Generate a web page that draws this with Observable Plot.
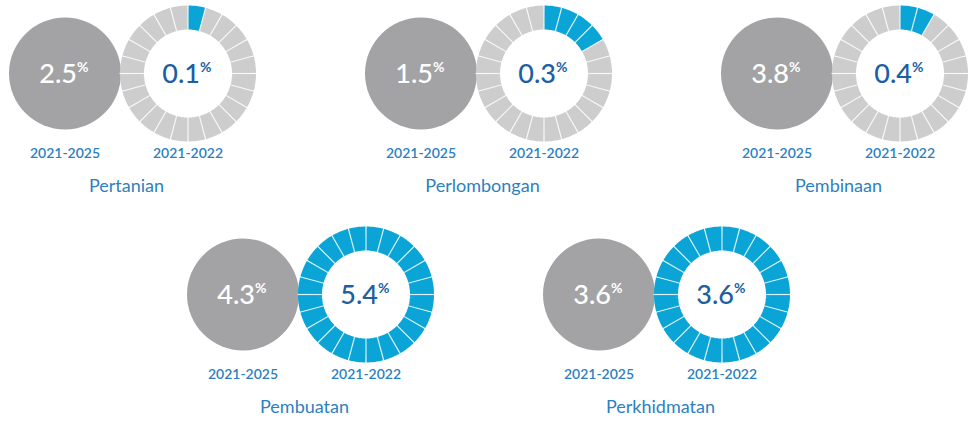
<!DOCTYPE html>
<html>
<head>
<meta charset="utf-8">
<script src="https://cdn.jsdelivr.net/npm/d3@7"></script>
<script src="https://cdn.jsdelivr.net/npm/@observablehq/plot@0.6"></script>
<style>
  html, body { margin: 0; padding: 0; background: #fff; }
  #chart { width: 971px; height: 421px; }
</style>
</head>
<body>
<div id="chart"></div>
<script>
// ---- data ----
const sectors = ["Pertanian", "Perlombongan", "Pembinaan", "Pembuatan", "Perkhidmatan"];
const target2125 = [2.5, 1.5, 3.8, 4.3, 3.6];
const actual2122 = [0.1, 0.3, 0.4, 5.4, 3.6];
const filledSegments = [1, 4, 2, 24, 24];
const periodLabels = ["2021-2025", "2021-2022"];
const segmentCount = 24;

// ---- layout (positions only) ----
const W = 971, H = 421;
const cols = [-1, 0, 1, -0.5, 0.5];
const rows = [0, 0, 0, 1, 1];
const rowY = [73, 294];
const groupX = i => 482 + 356 * cols[i];
const discR = 56, ringOuter = 68, ringInner = 44;
const ringMid = (ringOuter + ringInner) / 2, ringW = ringOuter - ringInner;

const groups = sectors.map((name, i) => {
  const cx = groupX(i), cy = rowY[rows[i]];
  return {name, i, cy, gx: cx - 61.5, rx: cx + 61.5, cx,
          target: target2125[i], actual: actual2122[i], filled: filledSegments[i]};
});

// ring segments as arcs
const arcPts = [];
const seps = [];
groups.forEach(g => {
  for (let k = 0; k < segmentCount; k++) {
    const a0 = k * 2 * Math.PI / segmentCount, a1 = (k + 1) * 2 * Math.PI / segmentCount;
    const on = k < g.filled;
    for (let s = 0; s <= 8; s++) {
      const a = a0 + (a1 - a0) * s / 8;
      arcPts.push({x: g.rx + ringMid * Math.sin(a), y: g.cy - ringMid * Math.cos(a),
                   z: g.i + "-" + k, on});
    }
    seps.push({x1: g.rx + (ringInner - 0.5) * Math.sin(a0), y1: g.cy - (ringInner - 0.5) * Math.cos(a0),
               x2: g.rx + (ringOuter + 0.5) * Math.sin(a0), y2: g.cy - (ringOuter + 0.5) * Math.cos(a0)});
  }
});

const fmt = v => v.toFixed(1);
const BLUE = "#0aa5d6", RING_GRAY = "#cdcdcd", DISC = "#a3a3a5";

const chart = Plot.plot({
  width: W, height: H, margin: 0,
  x: {domain: [0, W], range: [0, W], axis: null},
  y: {domain: [0, H], range: [0, H], axis: null},
  style: {fontFamily: "Lato, 'Open Sans', sans-serif", background: "#fff"},
  marks: [
    Plot.dot(groups, {x: "gx", y: "cy", r: discR, fill: DISC}),
    Plot.line(arcPts, {x: "x", y: "y", z: "z", stroke: d => d.on ? BLUE : RING_GRAY,
                       strokeWidth: ringW, strokeLinecap: "butt", curve: "linear"}),
    Plot.link(seps, {x1: "x1", y1: "y1", x2: "x2", y2: "y2", stroke: "#fff", strokeWidth: 1.2, strokeOpacity: 0.8}),
    // disc numbers
    Plot.text(groups, {x: d => d.gx + 12, y: d => d.cy + 1, text: d => fmt(d.target), fill: "#fff",
                       fontSize: 27, fontWeight: 500, textAnchor: "end"}),
    Plot.text(groups, {x: d => d.gx + 12, y: d => d.cy - 6, text: () => "%", fill: "#fff",
                       fontSize: 14, fontWeight: 700, textAnchor: "start"}),
    // ring numbers
    Plot.text(groups, {x: d => d.rx + 12, y: d => d.cy + 1, text: d => fmt(d.actual), fill: "#1d5fa0",
                       fontSize: 27, fontWeight: 500, textAnchor: "end"}),
    Plot.text(groups, {x: d => d.rx + 12, y: d => d.cy - 6, text: () => "%", fill: "#1d5fa0",
                       fontSize: 14, fontWeight: 700, textAnchor: "start"}),
    // period labels
    Plot.text(groups, {x: "gx", y: d => d.cy + 80, text: () => periodLabels[0], fill: "#2a7fc0",
                       fontSize: 14, fontWeight: 600}),
    Plot.text(groups, {x: "rx", y: d => d.cy + 80, text: () => periodLabels[1], fill: "#2a7fc0",
                       fontSize: 14, fontWeight: 600}),
    // sector names
    Plot.text(groups, {x: "cx", y: d => d.cy + 113, text: "name", fill: "#2d7fc0", fontSize: 18})
  ]
});
document.getElementById("chart").appendChild(chart);
</script>
</body>
</html>
